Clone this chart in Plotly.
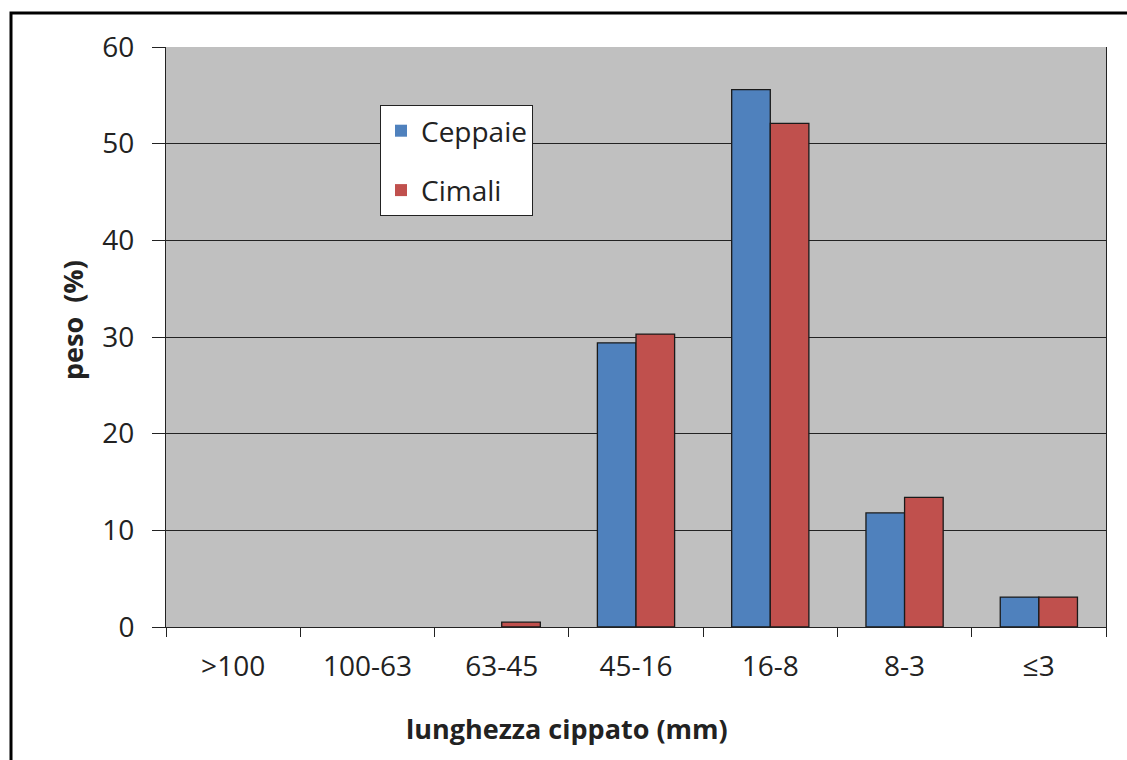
import plotly.graph_objects as go

categories = [">100", "100-63", "63-45", "45-16", "16-8", "8-3", "≤3"]
ceppaie = [0, 0, 0, 29.4, 55.6, 11.8, 3.1]
cimali = [0, 0, 0.5, 30.3, 52.1, 13.4, 3.1]

FONT = "Open Sans"
X0, X1, Y0, Y1 = 166, 1106, 627, 47  # plot area pixels


def px_x(x):
    return (x - X0) / (X1 - X0)


def px_y(y):
    return (Y0 - y) / (Y0 - Y1)


def outline(vals):
    return [1.3 if v > 0 else 0 for v in vals]


fig = go.Figure()
fig.add_trace(go.Bar(x=categories, y=ceppaie, name="Ceppaie",
                     marker=dict(color="#4F81BD", line=dict(color="#1a1a1a", width=outline(ceppaie))),
                     legendgroup="a"))
fig.add_trace(go.Bar(x=categories, y=cimali, name="Cimali",
                     marker=dict(color="#C0504D", line=dict(color="#1a1a1a", width=outline(cimali))),
                     legendgroup="b"))

fig.update_layout(
    width=1127, height=760,
    margin=dict(l=X0, r=1127 - X1, t=Y1, b=760 - Y0),
    paper_bgcolor="white", plot_bgcolor="#C0C0C0",
    font=dict(family=FONT, color="#222", size=28),
    barmode="group", bargap=0.425, bargroupgap=0,
    showlegend=True,
    legend=dict(x=px_x(380), y=px_y(105), xanchor="left", yanchor="top",
                bgcolor="white", bordercolor="#222", borderwidth=1,
                font=dict(size=28, family=FONT), tracegroupgap=20,
                traceorder="grouped", itemwidth=30),
    xaxis=dict(type="category", showline=True, linecolor="#222", linewidth=1,
               ticks="outside", ticklen=9, tickcolor="#222", tickson="boundaries",
               tickfont=dict(size=28), showgrid=False, ticklabelstandoff=14),
    yaxis=dict(range=[0, 60], dtick=10, showline=True, linecolor="#222", linewidth=1,
               mirror=True, ticks="outside", ticklen=13, tickcolor="#222",
               gridcolor="#222", gridwidth=1, zeroline=False,
               tickfont=dict(size=28), ticklabelstandoff=12),
    annotations=[
        dict(text="<b>lunghezza cippato (mm)</b>", xref="paper", yref="paper",
             x=px_x(567), y=px_y(728), showarrow=False, font=dict(size=27),
             xanchor="center", yanchor="middle"),
        dict(text="<b>peso  (%)</b>", xref="paper", yref="paper",
             x=px_x(72), y=px_y(320), showarrow=False, font=dict(size=27),
             textangle=-90, xanchor="center", yanchor="middle"),
    ],
)

fig.add_shape(type="rect", xref="paper", yref="paper",
              x0=px_x(11), x1=px_x(1135), y0=px_y(770), y1=px_y(13),
              line=dict(color="black", width=3), fillcolor="rgba(0,0,0,0)", layer="above")

fig.write_html("out.html")
